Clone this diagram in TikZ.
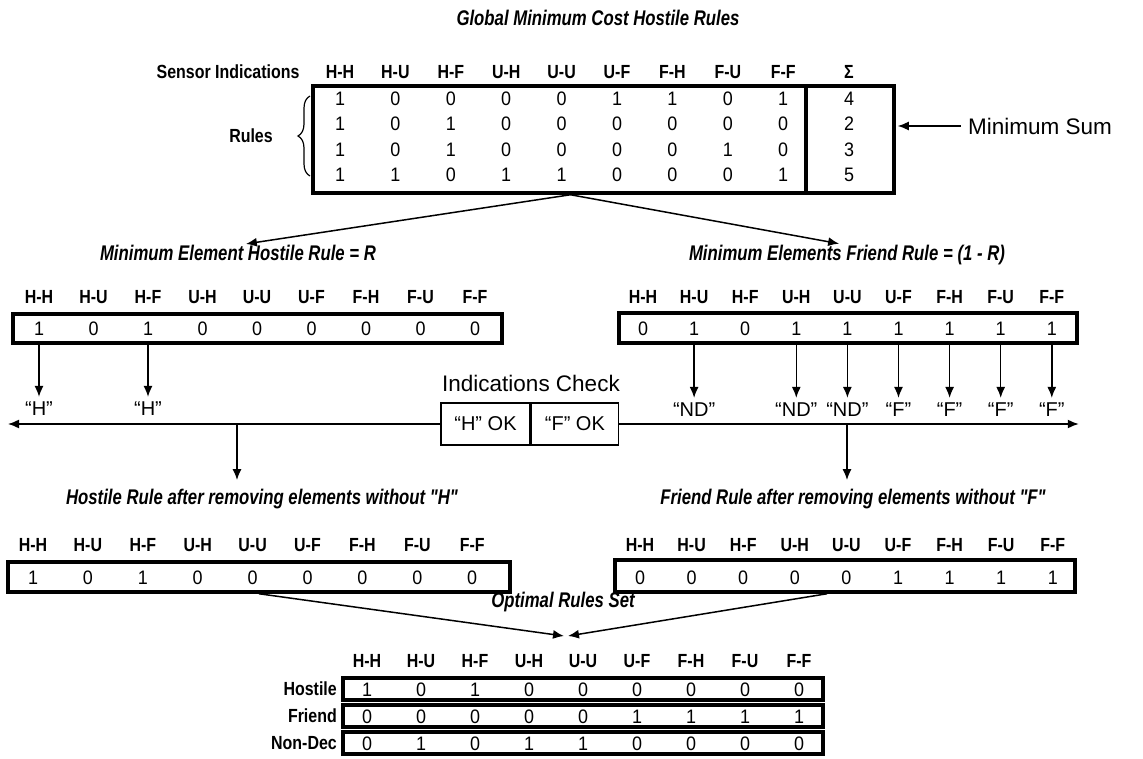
\documentclass[tikz,border=0pt]{standalone}
\usepackage{fontspec}
\setmainfont{Liberation Sans}
\newfontfamily\hdrfont[FakeStretch=0.84]{Liberation Sans}
\newfontfamily\valfont[FakeStretch=0.92]{Liberation Sans}
\newfontfamily\capfont[FakeStretch=0.79]{Liberation Sans}
\usetikzlibrary{arrows.meta, positioning, decorations.pathreplacing}
\tikzset{
  hdr/.style={font=\hdrfont\bfseries\fontsize{19}{22}\selectfont,inner sep=0pt,text height=13.6pt,text depth=0pt},
  val/.style={font=\valfont\fontsize{19.5}{22}\selectfont,inner sep=0pt,text height=14pt,text depth=0pt},
  caption/.style={font=\capfont\bfseries\itshape\fontsize{21.2}{24}\selectfont,inner sep=0pt,text depth=0pt},
  plain/.style={font=\fontsize{22.5}{26}\selectfont,inner sep=0pt,text depth=0pt},
  quote/.style={font=\fontsize{20}{24}\selectfont,inner sep=0pt,text depth=0pt},
  tbl/.style={rectangle,draw,line width=3.5pt,inner sep=0pt},
  chk/.style={rectangle,draw,line width=1.4pt,inner sep=0pt,minimum height=42pt,font=\fontsize{20}{24}\selectfont},
  line/.style={-{Latex[length=11pt,width=9pt]},line width=1.5pt}
}

\begin{document}
\begin{tikzpicture}[x=1pt,y=-1pt]
\useasboundingbox (0,0) rectangle (1143,759);

% global table
\node[caption] (title) at (598,18) {Global Minimum Cost Hostile Rules};
\node[hdr] (sensor) at (228,72) {Sensor Indications};
\foreach \lab [count=\i] in {H-H,H-U,H-F,U-H,U-U,U-F,F-H,F-U,F-F}
  \node[hdr] (th\i) at ({340+55.4*(\i-1)},72) {\lab};
\node[hdr] (tsum) at (849,72) {Σ};
\node[tbl,minimum width=581pt,minimum height=107pt] (rules) at (603.5,139.5) {};
\draw[line width=3.5pt] ([xshift=-90pt]rules.north east) -- ([xshift=-90pt]rules.south east);
\foreach \row [count=\r] in {{1,0,0,0,0,1,1,0,1},{1,0,1,0,0,0,0,0,0},{1,0,1,0,0,0,0,1,0},{1,1,0,1,1,0,0,0,1}}
  \foreach \v [count=\i] in \row
    \node[val] (tv\r-\i) at ({340+55.4*(\i-1)},{98.5+25.3*(\r-1)}) {\v};
\foreach \s [count=\r] in {4,2,3,5}
  \node[val] (sum\r) at (849,{98.5+25.3*(\r-1)}) {\s};
\draw[decorate,decoration={brace,amplitude=12pt},line width=1.2pt] (310,176) -- (310,96);
\node[hdr] (ruleslab) at (251,136) {Rules};
\node[plain] (minsum) at (1040,126) {Minimum Sum};
\draw[line,shorten >=2pt] ([xshift=-7pt]minsum.west) -- (minsum.west -| rules.east);

% minimum element rules
\coordinate (split) at ([xshift=-33pt]rules.south);
\node[caption] (hmin) at (238,253) {Minimum Element Hostile Rule = R};
\node[caption] (fmin) at (847,253) {Minimum Elements Friend Rule = (1 - R)};
\draw[line,shorten >=8pt] (split) -- (hmin.north);
\draw[line,shorten >=8pt] (split) -- (fmin.north);

\foreach \lab [count=\i] in {H-H,H-U,H-F,U-H,U-U,U-F,F-H,F-U,F-F} {
  \node[hdr] (hh\i) at ({39+54.5*(\i-1)},297) {\lab};
  \node[hdr] (fh\i) at ({643+51.1*(\i-1)},297) {\lab};
}
\node[tbl,minimum width=489pt,minimum height=29pt] (hrow) at (257.5,328.5) {};
\node[tbl,minimum width=458pt,minimum height=30pt] (frow) at (848,328) {};
\foreach \v [count=\i] in {1,0,1,0,0,0,0,0,0}
  \node[val] (hv\i) at ({39+54.5*(\i-1)},328) {\v};
\foreach \v [count=\i] in {0,1,0,1,1,1,1,1,1}
  \node[val] (fv\i) at ({643+51.1*(\i-1)},328) {\v};

\foreach \i in {1,3} {
  \node[quote] (hq\i) at ({39+54.5*(\i-1)},409) {“H”};
  \draw[line,shorten >=5pt] (hv\i |- hrow.south) -- (hq\i.north);
}
\foreach \i/\t in {2/ND,4/ND,5/ND,6/F,7/F,8/F,9/F} {
  \node[quote] (fq\i) at ({643+51.1*(\i-1)},410) {“\t”};
  \draw[line,shorten >=5pt] (fv\i |- frow.south) -- (fq\i.north);
}

% indications check
\node[plain] (chktitle) at (531,383) {Indications Check};
\node[chk,minimum width=89pt] (chkh) at (485.5,424) {“H” OK};
\node[chk,minimum width=87pt,right=0pt of chkh] (chkf) {“F” OK};
\coordinate (hend) at (8,424);
\draw[line] (chkh.west) -- (hend);
\draw[line] (chkf.east) -- (chkf.east -| frow.east);
\coordinate (hdrop) at (237,424);
\coordinate (fdrop) at (847,424);

% rules after removing
\node[caption] (hafter) at (262,497) {Hostile Rule after removing elements without "H"};
\node[caption] (fafter) at (853,497) {Friend Rule after removing elements without "F"};
\draw[line,shorten >=9pt] (hdrop) -- (hdrop |- hafter.north);
\draw[line,shorten >=9pt] (fdrop) -- (fdrop |- fafter.north);
\foreach \lab [count=\i] in {H-H,H-U,H-F,U-H,U-U,U-F,F-H,F-U,F-F} {
  \node[hdr] (ha\i) at ({33+54.9*(\i-1)},545) {\lab};
  \node[hdr] (fa\i) at ({640+51.6*(\i-1)},545) {\lab};
}
\node[tbl,minimum width=502pt,minimum height=30pt] (hbox) at (259,577) {};
\node[tbl,minimum width=460pt,minimum height=32pt] (fbox) at (845,576) {};
\foreach \v [count=\i] in {1,0,1,0,0,0,0,0,0}
  \node[val] (hb\i) at ({33+54.9*(\i-1)},577) {\v};
\foreach \v [count=\i] in {0,0,0,0,0,1,1,1,1}
  \node[val] (fb\i) at ({640+51.6*(\i-1)},577) {\v};

% optimal set
\node[caption] (optimal) at (563,600) {Optimal Rules Set};
\coordinate (opt) at (566,636);
\draw[line] (hbox.south) -- ([xshift=-2pt]opt);
\draw[line] ([xshift=-18pt]fbox.south) -- ([xshift=2pt]opt);
\foreach \lab [count=\i] in {H-H,H-U,H-F,U-H,U-U,U-F,F-H,F-U,F-F}
  \node[hdr] (oh\i) at ({367+54*(\i-1)},661) {\lab};
\foreach \nm/\y [count=\r] in {Hostile/689,Friend/716,Non-Dec/743} {
  \node[tbl,minimum width=480pt,minimum height=22pt] (orow\r) at (583,\y) {};
  \node[hdr,anchor=east] (olab\r) at (337,\y) {\nm};
}
\foreach \row/\y [count=\r] in {{1,0,1,0,0,0,0,0,0}/689,{0,0,0,0,0,1,1,1,1}/716,{0,1,0,1,1,0,0,0,0}/743}
  \foreach \v [count=\i] in \row
    \node[val] (ov\r-\i) at ({367+54*(\i-1)},\y) {\v};
\end{tikzpicture}
\end{document}
